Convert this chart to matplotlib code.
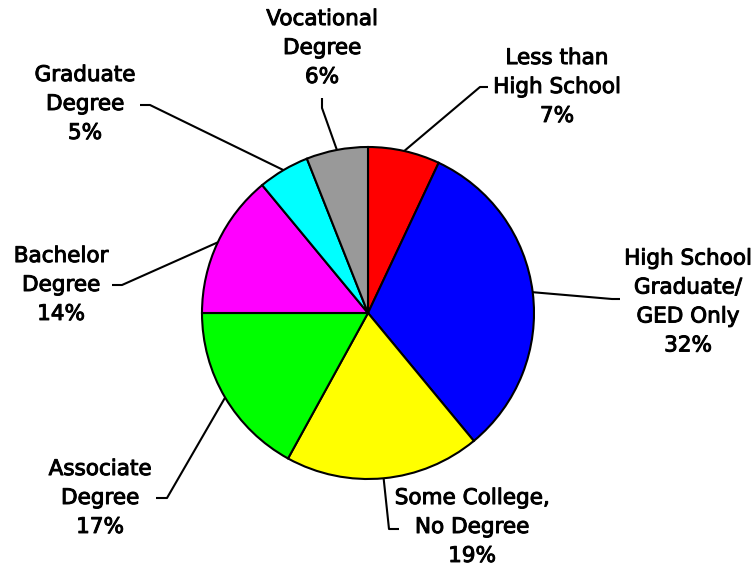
import numpy as np
import matplotlib
matplotlib.use("Agg")
import matplotlib.pyplot as plt
import matplotlib.patheffects as pe

# education level shares (percent), clockwise from 12 o'clock
labels = [
    "Less than\nHigh School",
    "High School\nGraduate/\nGED Only",
    "Some College,\nNo Degree",
    "Associate\nDegree",
    "Bachelor\nDegree",
    "Graduate\nDegree",
    "Vocational\nDegree",
]
shares = [7, 32, 19, 17, 14, 5, 6]
colors = ["#ff0000", "#0000ff", "#ffff00", "#00ff00", "#ff00ff", "#00ffff", "#999999"]

W, H = 756, 569
CX, CY, R = 368, 313, 166

# label centre and leader elbow / end, pixel coords from top-left
label_pos = [(557, 87), (688, 302), (472, 527), (100, 498), (61, 285), (85, 104), (322, 48)]
elbows = [
    ((480, 87), (488, 87)),
    ((612, 299), (620, 299)),
    ((389, 529), (399, 529)),
    ((167, 498), (156, 498)),
    ((122, 285), (112, 285)),
    ((150, 105), (140, 105)),
    ((322, 108), (322, 98)),
]

fig = plt.figure(figsize=(W / 100, H / 100), dpi=100)
ax = fig.add_axes([0, 0, 1, 1])

wedges, _ = ax.pie(
    shares,
    colors=colors,
    startangle=90,
    counterclock=False,
    center=(CX, H - CY),
    radius=R,
    wedgeprops=dict(edgecolor="black", linewidth=1.5),
)
ax.set_xlim(0, W)
ax.set_ylim(0, H)
ax.set_aspect("equal")
ax.axis("off")

bold_ish = [pe.withStroke(linewidth=0.7, foreground="black")]
for w, lab, val, (lx, ly), (elb, end) in zip(wedges, labels, shares, label_pos, elbows):
    mid = np.deg2rad((w.theta1 + w.theta2) / 2)
    sx = CX + R * np.cos(mid)
    sy = (H - CY) + R * np.sin(mid)
    ax.plot([sx, elb[0], end[0]], [sy, H - elb[1], H - end[1]],
            color="black", lw=1.5, solid_capstyle="butt", zorder=3)
    ax.text(lx, H - ly, f"{lab}\n{val}%", ha="center", va="center",
            fontsize=15.5, linespacing=1.56, color="black", family="DejaVu Sans",
            path_effects=bold_ish)

fig.savefig("out.png", dpi=100)
